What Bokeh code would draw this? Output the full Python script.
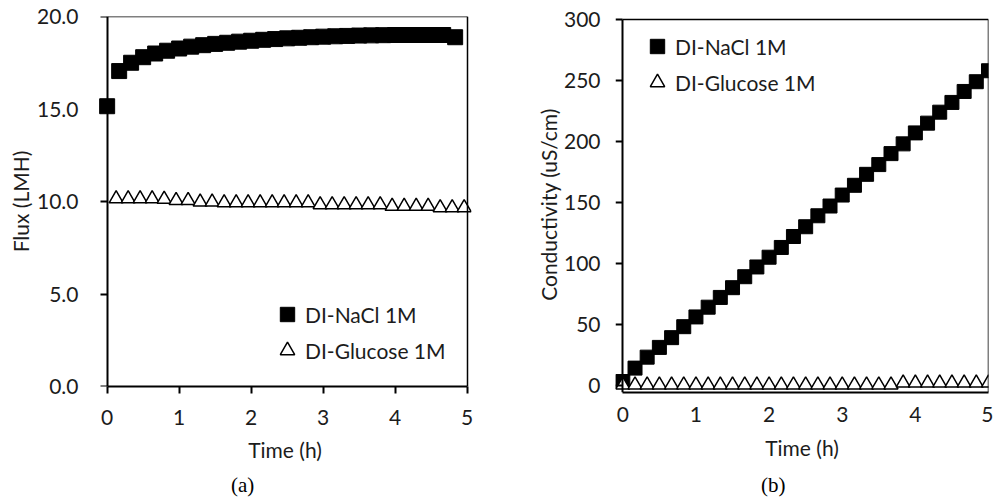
from bokeh.plotting import figure
from bokeh.models import (Range1d, LinearAxis, FixedTicker, NumeralTickFormatter,
                          Legend, LegendItem)
from bokeh.layouts import row
from bokeh.embed import file_html
from bokeh.resources import INLINE

# ---------------- data: panel (a) Flux ----------------
time_nacl_a = [0.0, 0.167, 0.333, 0.5, 0.667, 0.833, 1.0, 1.167, 1.333, 1.5,
               1.667, 1.833, 2.0, 2.167, 2.333, 2.5, 2.667, 2.833, 3.0, 3.167,
               3.333, 3.5, 3.667, 3.833, 4.0, 4.167, 4.333, 4.5, 4.667, 4.833]
flux_nacl = [15.15, 17.05, 17.5, 17.8, 18.0, 18.15, 18.27, 18.37, 18.45, 18.52,
             18.58, 18.64, 18.69, 18.74, 18.78, 18.82, 18.85, 18.88, 18.91, 18.93,
             18.95, 18.97, 18.98, 18.99, 19.0, 19.0, 19.0, 19.0, 19.0, 18.88]
time_glu_a = [0.125, 0.292, 0.458, 0.625, 0.792, 0.958, 1.125, 1.292, 1.458, 1.625,
              1.792, 1.958, 2.125, 2.292, 2.458, 2.625, 2.792, 2.958, 3.125, 3.292,
              3.458, 3.625, 3.792, 3.958, 4.125, 4.292, 4.458, 4.625, 4.792, 4.958]
flux_glu = [10.15, 10.15, 10.15, 10.15, 10.13, 10.06, 10.06, 9.97, 9.97, 9.93,
            9.93, 9.93, 9.93, 9.93, 9.93, 9.93, 9.93, 9.83, 9.83, 9.83,
            9.83, 9.83, 9.83, 9.74, 9.74, 9.74, 9.74, 9.67, 9.67, 9.67]

# ---------------- data: panel (b) Conductivity ----------------
time_b = [0.0, 0.167, 0.333, 0.5, 0.667, 0.833, 1.0, 1.167, 1.333, 1.5,
          1.667, 1.833, 2.0, 2.167, 2.333, 2.5, 2.667, 2.833, 3.0, 3.167,
          3.333, 3.5, 3.667, 3.833, 4.0, 4.167, 4.333, 4.5, 4.667, 4.833, 5.0]
cond_nacl = [3, 14, 23, 31, 39, 48, 56, 64, 72, 80,
             89, 97, 105, 113, 122, 130, 139, 147, 156, 164,
             173, 181, 190, 198, 207, 215, 224, 232, 241, 249, 258]
cond_glu = [0.2, 0.2, 0.2, 0.2, 0.2, 0.2, 0.2, 0.2, 0.2, 0.2,
            0.2, 0.2, 0.2, 0.2, 0.2, 0.2, 0.2, 0.2, 0.2, 0.2,
            0.2, 0.2, 0.2, 1.8, 1.8, 1.8, 1.8, 1.8, 1.8, 1.8, 1.8]

x_ticks = [0, 1, 2, 3, 4, 5]
y_ticks_a = [0, 5, 10, 15, 20]
y_ticks_b = [0, 50, 100, 150, 200, 250, 300]
series_names = ["DI-NaCl 1M", "DI-Glucose 1M"]
x_title = "Time (h)"
y_title_a = "Flux (LMH)"
y_title_b = "Conductivity (uS/cm)"
captions = ["(a)", "(b)"]

FONT = "Lato"
TXT = "#1c1c1c"
FS = "21px"


def base_axis(**kw):
    ax = LinearAxis(**kw)
    ax.axis_line_color = "black"
    ax.axis_line_width = 2
    ax.major_tick_line_color = "black"
    ax.major_tick_line_width = 2
    ax.minor_tick_out = 0
    ax.minor_tick_in = 0
    ax.major_tick_in = 0
    ax.major_label_text_font = FONT
    ax.major_label_text_font_size = FS
    ax.major_label_text_color = TXT
    ax.axis_label_text_font = FONT
    ax.axis_label_text_font_size = FS
    ax.axis_label_text_color = TXT
    ax.axis_label_text_font_style = "normal"
    return ax


def make_panel(xr, yr, y_top, fw, fh, bl, br, bt, bb, yticks, yfmt, ylab_bounds,
               yline_bounds, xtick_out, xlab_standoff, xtitle_standoff,
               ylab_standoff, ytitle_standoff, ytitle, caption, cap_center,
               cap_standoff):
    p = figure(x_range=Range1d(start=xr[0], end=xr[1]),
               y_range=Range1d(start=yr[0], end=yr[1]),
               frame_width=fw, frame_height=fh,
               min_border_left=bl, min_border_right=br,
               min_border_top=bt, min_border_bottom=bb,
               x_axis_location=None, y_axis_location=None,
               output_backend="svg", toolbar_location=None,
               background_fill_color="white", border_fill_color="white")
    p.outline_line_color = None
    p.xgrid.visible = False
    p.ygrid.visible = False

    # bottom axis with tick labels and title
    xb = base_axis(ticker=FixedTicker(ticks=x_ticks), bounds=(0, 5),
                   axis_label=x_title)
    xb.major_tick_out = xtick_out
    xb.major_label_standoff = xlab_standoff
    xb.axis_label_standoff = xtitle_standoff
    p.add_layout(xb, "below")

    # caption below, placed as a single tick label at its own x position
    cap = base_axis(ticker=FixedTicker(ticks=[cap_center]))
    cap.major_label_overrides = {cap_center: caption}
    cap.axis_line_color = None
    cap.major_tick_line_color = None
    cap.major_tick_out = 0
    cap.major_label_standoff = cap_standoff
    cap.major_label_text_font = "Liberation Serif"
    cap.major_label_text_font_size = "21px"
    cap.major_label_text_color = "black"
    p.add_layout(cap, "below")

    # left axis: tick labels + title (at frame edge, no line)
    ya = base_axis(ticker=FixedTicker(ticks=yticks), bounds=ylab_bounds,
                   axis_label=ytitle)
    if yfmt:
        ya.formatter = NumeralTickFormatter(format=yfmt)
    ya.axis_line_color = None
    ya.major_tick_line_color = None
    ya.major_tick_out = 0
    ya.major_label_standoff = ylab_standoff
    ya.axis_label_standoff = ytitle_standoff
    p.add_layout(ya, "left")

    # left axis line + ticks at x = 0
    yb = base_axis(ticker=FixedTicker(ticks=yticks), bounds=yline_bounds,
                   fixed_location=0)
    yb.major_label_overrides = {t: "" for t in yticks}
    yb.major_tick_out = 7
    p.add_layout(yb, "left")

    # top and right frame lines
    xt = base_axis(ticker=FixedTicker(ticks=[]), bounds=(0, 5),
                   fixed_location=y_top)
    xt.major_tick_out = 0
    xt.axis_line_width = 1.5
    p.add_layout(xt, "above")

    yr_ax = base_axis(ticker=FixedTicker(ticks=[]), bounds=yline_bounds,
                      fixed_location=5)
    yr_ax.major_tick_out = 0
    yr_ax.axis_line_width = 1.5
    p.add_layout(yr_ax, "right")
    return p


def add_series(p, xs1, ys1, xs2, ys2, sq_size):
    r1 = p.scatter(xs1, ys1, marker="square", size=sq_size,
                   fill_color="black", line_color="black", line_width=1)
    r2 = p.scatter(xs2, ys2, marker="triangle", size=14,
                   fill_color="white", line_color="black", line_width=1.5)
    return r1, r2


def add_legend(p, r1, r2, loc):
    leg = Legend(items=[LegendItem(label=series_names[0], renderers=[r1]),
                        LegendItem(label=series_names[1], renderers=[r2])],
                 location=loc, glyph_width=36, glyph_height=36,
                 label_standoff=0, spacing=0, padding=0, margin=0,
                 border_line_color=None, background_fill_alpha=0,
                 label_text_font=FONT, label_text_font_size=FS,
                 label_text_color=TXT)
    p.add_layout(leg)


# ---------------- panel (a) ----------------
pa = make_panel(xr=(-0.12, 5.06), yr=(0, 20), y_top=20, fw=373, fh=370,
                bl=98, br=25, bt=16, bb=117,
                yticks=y_ticks_a, yfmt="0.0", ylab_bounds=(0, 20),
                yline_bounds=(0, 20),
                xtick_out=7, xlab_standoff=16, xtitle_standoff=9,
                ylab_standoff=20, ytitle_standoff=1, ytitle=y_title_a,
                caption=captions[0], cap_center=1.882, cap_standoff=8)
ra1, ra2 = add_series(pa, time_nacl_a, flux_nacl, time_glu_a, flux_glu, 15)
add_legend(pa, ra1, ra2, (171, 18))

# ---------------- panel (b) ----------------
pb = make_panel(xr=(-0.1, 5.0), yr=(-6, 302.5), y_top=300, fw=373, fh=376,
                bl=119, br=5, bt=16, bb=111,
                yticks=y_ticks_b, yfmt=None, ylab_bounds=(0, 300),
                yline_bounds=(-6, 300),
                xtick_out=0, xlab_standoff=14, xtitle_standoff=10,
                ylab_standoff=15, ytitle_standoff=0, ytitle=y_title_b,
                caption=captions[1], cap_center=2.056, cap_standoff=10)
rb1, rb2 = add_series(pb, time_b, cond_nacl, time_b, cond_glu, 14)
add_legend(pb, rb1, rb2, (24, 292))

layout = row(pa, pb)
open("out.html", "w").write(file_html(layout, INLINE))
